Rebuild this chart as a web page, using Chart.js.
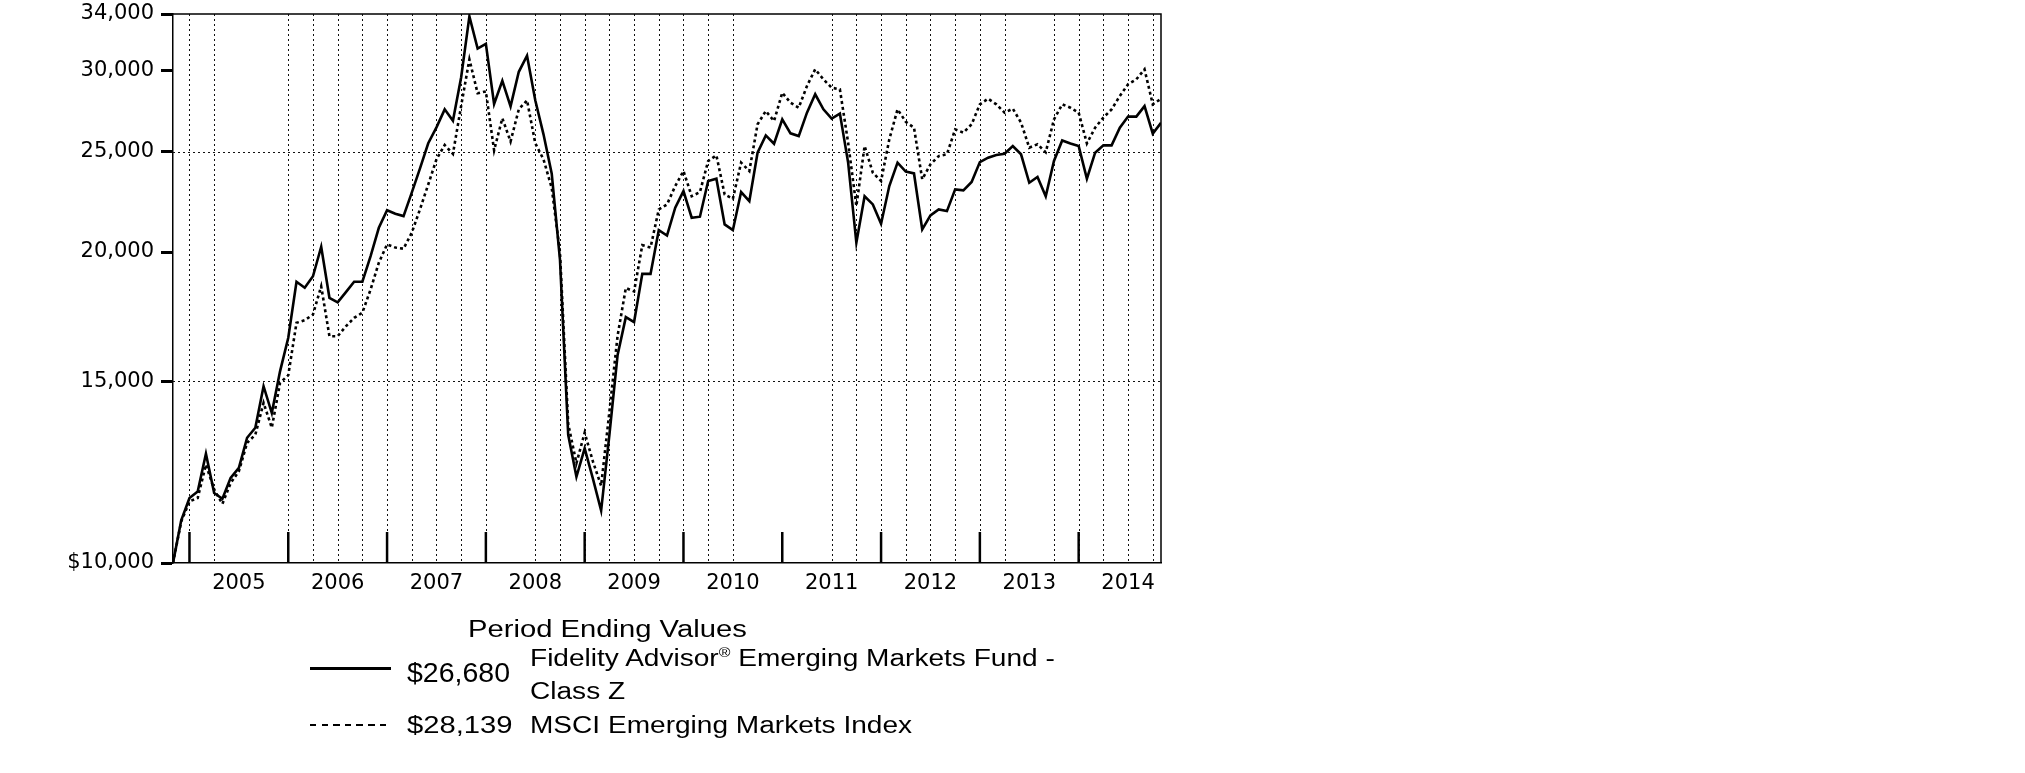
<!DOCTYPE html>
<html>
<head>
<meta charset="utf-8">
<script src="https://cdn.jsdelivr.net/npm/chart.js@4.4.1/dist/chart.umd.min.js"></script>
<style>
html,body{margin:0;padding:0;background:#fff;width:2025px;height:773px;overflow:hidden;}
#wrap{position:relative;width:2025px;height:773px;}
#c{position:absolute;left:0;top:0;}
.t{position:absolute;white-space:nowrap;font-family:'Liberation Sans',Arial,sans-serif;color:#000;line-height:1;font-size:23px;transform-origin:0 0;transform:scaleX(1.27);}
.nm{transform:scaleX(1.22);}
.reg{font-size:13px;position:relative;top:-9px;}
.sampleSolid{position:absolute;left:310px;top:667px;width:81px;height:2.5px;background:#000;}
.sampleDot{position:absolute;left:310px;top:723.5px;width:81px;height:2.5px;background:repeating-linear-gradient(to right,#000 0 6.5px,transparent 6.5px 11.6px);}
</style>
</head>
<body>
<div id="wrap">
<canvas id="c" width="2025" height="773"></canvas>
<div class="t" style="left:468px;top:618px;">Period Ending Values</div>
<div class="sampleSolid"></div>
<div class="t" id="val0" style="left:407px;top:658px;font-size:28.5px;transform:none;"></div>
<div class="t nm" style="left:530px;top:647px;">Fidelity Advisor<span class="reg">®</span> Emerging Markets Fund -</div>
<div class="t nm" style="left:530px;top:679.5px;">Class Z</div>
<div class="sampleDot"></div>
<div class="t" id="val1" style="left:407px;top:714px;"></div>
<div class="t nm" id="name1" style="left:530px;top:714px;"></div>
</div>
<script>
// ---- data ----
const firstMonth = { year: 2004, month: 10 }; // monthly values, period ending Oct 2004 .. Oct 2014
const seriesNames = ['Fidelity Advisor® Emerging Markets Fund - Class Z', 'MSCI Emerging Markets Index'];
const endingValues = ['$26,680', '$28,139'];

const fundValues = [
  10000, 11000, 11560, 11730, 12760, 11690, 11540, 12090, 12360, 13220, 13520, 14830,
  13970, 15330, 16520, 18720, 18470, 18950, 20240, 18060, 17880, 18290, 18720, 18720,
  19820, 21110, 21950, 21780, 21670, 22830, 24100, 25490, 26410, 27490, 26800, 29530,
  33820, 31480, 31810, 27820, 29300, 27670, 29890, 30980, 28050, 26000, 23820, 19670,
  13310, 12120, 12910, 12070, 11240, 13300, 15900, 17300, 17110, 19050, 19050, 21000,
  20750, 22080, 22910, 21590, 21640, 23430, 23550, 21270, 21000, 22860, 22400, 24960,
  25940, 25460, 26880, 26060, 25900, 27290, 28430, 27490, 26930, 27230, 24410, 20420,
  22650, 22240, 21300, 23170, 24410, 23930, 23830, 21030, 21700, 21990, 21910, 23000,
  22950, 23380, 24440, 24680, 24830, 24900, 25330, 24870, 23340, 23640, 22650, 24500,
  25650, 25480, 25330, 23550, 24960, 25370, 25370, 26390, 27050, 27050, 27690, 26040,
  26680
];
const indexValues = [
  10000, 10970, 11470, 11560, 12450, 11780, 11410, 11950, 12270, 13070, 13310, 14290,
  13520, 14940, 15200, 17080, 17180, 17400, 18530, 16580, 16580, 16950, 17270, 17470,
  18400, 19530, 20340, 20200, 20150, 20880, 22000, 23250, 24590, 25390, 24890, 27710,
  30730, 28490, 28610, 25090, 26950, 25590, 27490, 28050, 25490, 24590, 23070, 19990,
  13640, 12490, 13370, 12540, 11880, 14000, 16600, 18460, 18320, 20310, 20200, 21990,
  22240, 23170, 23960, 22650, 22860, 24500, 24810, 22740, 22520, 24410, 23960, 26590,
  27390, 26780, 28530, 27900, 27590, 28960, 30060, 29390, 28850, 28740, 25520, 22160,
  25330, 23870, 23430, 25710, 27490, 26740, 26390, 23520, 24320, 24770, 24870, 26290,
  26100, 26590, 27800, 28150, 27800, 27290, 27530, 26690, 25240, 25430, 24980, 26880,
  27800, 27590, 27290, 25480, 26390, 26990, 27490, 28320, 29070, 29390, 30060, 27800,
  28139
];

const yearLabels = ['2005', '2006', '2007', '2008', '2009', '2010', '2011', '2012', '2013', '2014'];
const yTickValues = [10000, 15000, 20000, 25000, 30000, 34000];
const yTickLabels = ['$10,000', '15,000', '20,000', '25,000', '30,000', '34,000'];
const yGridValues = [15000, 25000];
// quarter-end gridlines that the original chart leaves out (decimal years)
const skippedGridQuarters = [2005.5, 2005.75, 2008.25, 2010.75, 2011.0, 2011.25, 2013.5];

// ---- legend text ----
document.getElementById('val0').textContent = endingValues[0];
document.getElementById('val1').textContent = endingValues[1];
document.getElementById('name1').textContent = seriesNames[1];

// ---- chart ----
const xStart = firstMonth.year + firstMonth.month / 12;
const xEnd = xStart + (fundValues.length - 1) / 12;
const toPoints = arr => arr.map((v, i) => ({ x: xStart + i / 12, y: v }));

const plotDecor = {
  id: 'plotDecor',
  beforeDatasetsDraw(chart) {
    const { ctx, chartArea: a, scales: { x, y } } = chart;
    ctx.save();
    ctx.strokeStyle = '#111';
    ctx.lineWidth = 1;
    ctx.setLineDash([2, 3]);
    for (let q = Math.ceil(xStart * 4) / 4; q <= xEnd + 1e-9; q += 0.25) {
      if (skippedGridQuarters.some(s => Math.abs(s - q) < 1e-6)) continue;
      const px = Math.round(x.getPixelForValue(q)) + 0.5;
      ctx.beginPath(); ctx.moveTo(px, a.top); ctx.lineTo(px, a.bottom); ctx.stroke();
    }
    yGridValues.forEach(v => {
      const py = Math.round(y.getPixelForValue(v)) + 0.5;
      ctx.beginPath(); ctx.moveTo(a.left, py); ctx.lineTo(a.right, py); ctx.stroke();
    });
    ctx.restore();
  },
  afterDatasetsDraw(chart) {
    const { ctx, chartArea: a, scales: { x } } = chart;
    ctx.save();
    ctx.setLineDash([]);
    ctx.strokeStyle = '#000';
    ctx.lineWidth = 2.5;
    for (let yr = Math.ceil(xStart); yr < xEnd; yr++) {
      const px = x.getPixelForValue(yr);
      ctx.beginPath(); ctx.moveTo(px, a.bottom); ctx.lineTo(px, a.bottom - 31); ctx.stroke();
    }
    ctx.lineWidth = 1.5;
    ctx.beginPath();
    ctx.moveTo(a.left, a.top); ctx.lineTo(a.right, a.top); ctx.lineTo(a.right, a.bottom);
    ctx.stroke();
    ctx.restore();
  }
};

const tickFont = { family: "'DejaVu Sans', 'Liberation Sans', Arial, sans-serif", size: 21 };

new Chart(document.getElementById('c'), {
  type: 'line',
  data: {
    datasets: [
      { label: seriesNames[0], data: toPoints(fundValues), borderColor: '#000', borderWidth: 2.6,
        pointRadius: 0, tension: 0, fill: false },
      { label: seriesNames[1], data: toPoints(indexValues), borderColor: '#000', borderWidth: 2.6,
        borderDash: [3, 3], pointRadius: 0, tension: 0, fill: false }
    ]
  },
  options: {
    responsive: false,
    devicePixelRatio: 1,
    animation: false,
    layout: { padding: { left: 0, top: 14, right: 864, bottom: 170 } },
    plugins: { legend: { display: false }, tooltip: { enabled: false } },
    scales: {
      x: {
        type: 'linear', min: xStart, max: xEnd,
        afterBuildTicks: s => { s.ticks = yearLabels.map(yl => ({ value: Number(yl) + 0.5 })); },
        afterFit: s => { s.height = 40; s.paddingLeft = 0; s.paddingRight = 0; },
        ticks: { callback: (v, i) => yearLabels[i], font: tickFont, color: '#000', padding: 8,
                 maxRotation: 0, autoSkip: false },
        grid: { display: false, drawTicks: false },
        border: { display: true, color: '#000', width: 1.5 }
      },
      y: {
        type: 'logarithmic', min: 10000, max: 34000,
        afterBuildTicks: s => { s.ticks = yTickValues.map(v => ({ value: v })); },
        afterFit: s => { s.width = 173; s.paddingTop = 0; s.paddingBottom = 0; },
        ticks: { callback: (v, i) => yTickLabels[i], font: tickFont, color: '#000', padding: 7,
                 autoSkip: false },
        grid: { drawOnChartArea: false, drawTicks: true, tickLength: 12, tickWidth: 3, tickColor: '#000',
                color: '#000' },
        border: { display: true, color: '#000', width: 1.5 }
      }
    }
  },
  plugins: [plotDecor]
});
</script>
</body>
</html>
